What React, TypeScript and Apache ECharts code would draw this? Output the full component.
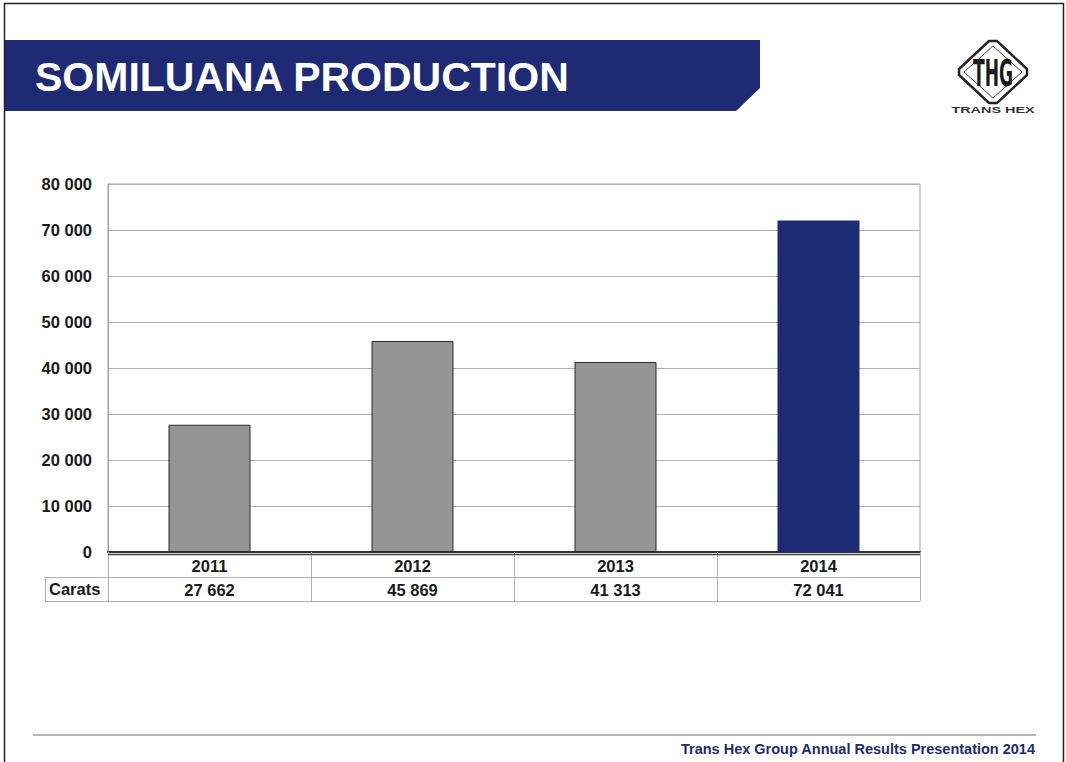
import React, { useEffect, useRef } from "react";
import * as echarts from "echarts";

const title = "SOMILUANA PRODUCTION";
const footer = "Trans Hex Group Annual Results Presentation 2014";
const rowLabel = "Carats";
const categories = ["2011", "2012", "2013", "2014"];
const carats = [27662, 45869, 41313, 72041];
const highlight = [false, false, false, true];
const yMin = 0;
const yMax = 80000;
const yStep = 10000;

const NAVY = "#1E2A74";
const GREY = "#959595";
const FONT = "'Liberation Sans', Arial, sans-serif";
const FS = 16.5;

const fmt = (n: number) => String(n).replace(/\B(?=(\d{3})+(?!\d))/g, " ");

export default function App() {
  const ref = useRef<HTMLDivElement>(null);
  useEffect(() => {
    if (!ref.current) return;
    const chart = echarts.init(ref.current, null, { renderer: "svg" });
    const gridLeft = 108;
    const gridTop = 184;
    const gridW = 812;
    const gridH = 368;
    const gridBottomY = gridTop + gridH;
    chart.setOption({
      animation: false,
      backgroundColor: "#fff",
      textStyle: { fontFamily: FONT },
      grid: {
        left: gridLeft,
        top: gridTop,
        width: gridW,
        height: gridH,
        show: true,
        borderColor: "#a0a0a0",
        borderWidth: 1,
      },
      xAxis: {
        type: "category",
        data: categories,
        boundaryGap: true,
        axisLine: { show: true, lineStyle: { color: "#333", width: 2 } },
        axisTick: { show: true, length: 49, alignWithLabel: false, lineStyle: { color: "#b0b0b0", width: 1 } },
        axisLabel: {
          margin: 2,
          interval: 0,
          formatter: (val: string, idx: number) => `{y|${val}}\n{v|${fmt(carats[idx])}}`,
          rich: {
            y: { fontFamily: FONT, fontWeight: "bold", fontSize: FS, lineHeight: 24, color: "#1a1a1a" },
            v: { fontFamily: FONT, fontWeight: "bold", fontSize: FS, lineHeight: 24, color: "#1a1a1a" },
          },
        },
      },
      yAxis: {
        type: "value",
        min: yMin,
        max: yMax,
        interval: yStep,
        axisLine: { show: true, lineStyle: { color: "#a0a0a0", width: 1 } },
        axisTick: { show: false },
        splitLine: { show: true, lineStyle: { color: "#b0b0b0", width: 1 } },
        axisLabel: {
          margin: 16,
          fontFamily: FONT,
          fontWeight: "bold",
          fontSize: FS,
          color: "#1a1a1a",
          formatter: (v: number) => fmt(v),
        },
      },
      series: [
        {
          type: "bar",
          barWidth: 82,
          data: carats.map((v, i) => ({
            value: v,
            itemStyle: highlight[i]
              ? { color: NAVY, borderColor: NAVY, borderWidth: 0 }
              : { color: GREY, borderColor: "#2a2a2a", borderWidth: 1 },
          })),
        },
      ],
      graphic: [
        // slide frame
        {
          type: "rect",
          shape: { x: 4.5, y: 3.5, width: 1059, height: 800 },
          style: { fill: "none", stroke: "#222", lineWidth: 1.5 },
          silent: true,
        },
        // header band
        {
          type: "polygon",
          shape: { points: [[5, 40], [760, 40], [760, 88], [736, 111], [5, 111]] },
          style: { fill: NAVY },
        },
        {
          type: "text",
          x: 35,
          y: 77,
          style: {
            text: title,
            fill: "#fff",
            font: `bold 41px ${FONT}`,
            textVerticalAlign: "middle",
          },
        },
        // logo
        {
          type: "polygon",
          shape: { points: [[989, 41], [997, 41], [1027, 69], [1027, 75], [997, 103], [989, 103], [959, 75], [959, 69]] },
          style: { fill: "#fff", stroke: "#222", lineWidth: 2.5 },
        },
        {
          type: "polygon",
          shape: { points: [[993, 46], [1022, 72], [993, 98], [964, 72]] },
          style: { fill: "none", stroke: "#444", lineWidth: 1 },
        },
        {
          type: "text",
          x: 993,
          y: 73,
          scaleX: 0.5,
          style: {
            text: "THG",
            fill: "#1a1a1a",
            font: `bold 38px 'DejaVu Sans Condensed', ${FONT}`,
            textAlign: "center",
            textVerticalAlign: "middle",
          },
        },
        {
          type: "text",
          x: 993,
          y: 110,
          scaleX: 1.6,
          style: {
            text: "TRANS HEX",
            fill: "#333",
            font: `bold 9px ${FONT}`,
            textAlign: "center",
            textVerticalAlign: "middle",
          },
        },
        // double axis line
        {
          type: "line",
          z: 100,
          shape: { x1: gridLeft, y1: gridBottomY + 2.5, x2: gridLeft + gridW, y2: gridBottomY + 2.5 },
          style: { stroke: "#444", lineWidth: 1.5 },
        },
        // table lines
        {
          type: "line",
          shape: { x1: 45, y1: 577.5, x2: gridLeft + gridW, y2: 577.5 },
          style: { stroke: "#b0b0b0", lineWidth: 1 },
        },
        {
          type: "line",
          shape: { x1: 45, y1: 601.5, x2: gridLeft + gridW, y2: 601.5 },
          style: { stroke: "#b0b0b0", lineWidth: 1 },
        },
        {
          type: "line",
          shape: { x1: 45.5, y1: 577.5, x2: 45.5, y2: 601.5 },
          style: { stroke: "#b0b0b0", lineWidth: 1 },
        },
        {
          type: "text",
          x: 49,
          y: 589,
          style: {
            text: rowLabel,
            fill: "#1a1a1a",
            font: `bold ${FS}px ${FONT}`,
            textVerticalAlign: "middle",
          },
        },
        // footer
        {
          type: "line",
          shape: { x1: 33, y1: 735, x2: 1036, y2: 735 },
          style: { stroke: "#a0a0a0", lineWidth: 1.5 },
        },
        {
          type: "text",
          x: 1035,
          y: 749,
          style: {
            text: footer,
            fill: NAVY,
            font: `bold 14.5px ${FONT}`,
            textAlign: "right",
            textVerticalAlign: "middle",
          },
        },
      ],
    });
    return () => chart.dispose();
  }, []);
  return (
    <div
      ref={ref}
      style={{ position: "absolute", left: 0, top: 0, width: 1066, height: 762, background: "#fff" }}
    />
  );
}
